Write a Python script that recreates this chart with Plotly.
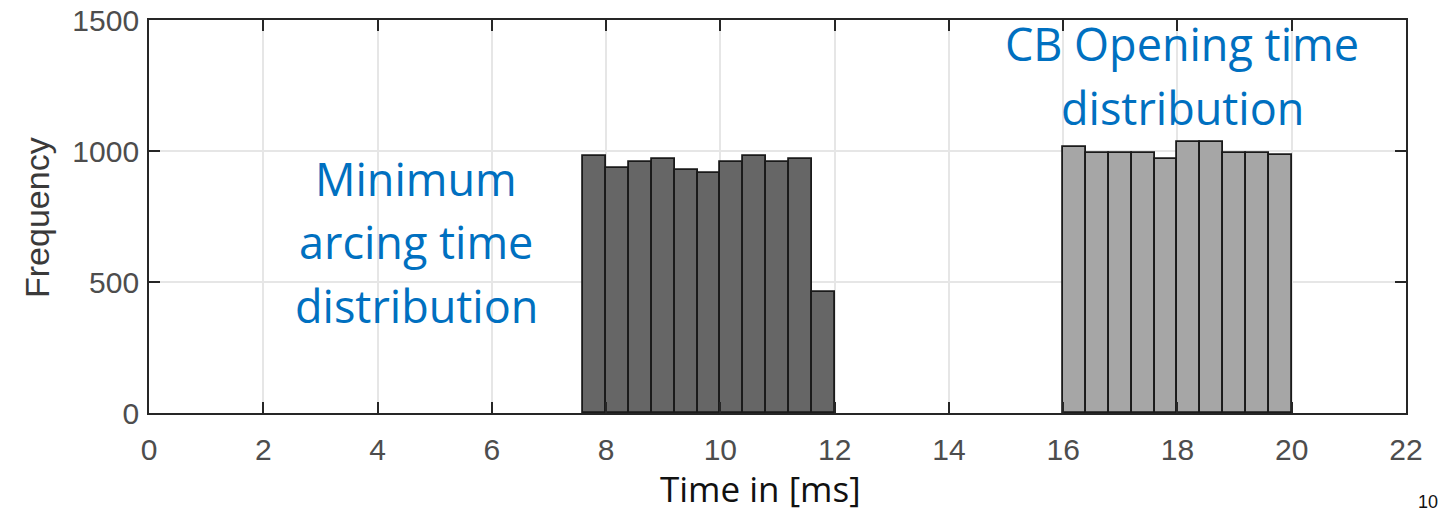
import plotly.graph_objects as go

# Data
arc_centers = [7.8, 8.2, 8.6, 9.0, 9.4, 9.8, 10.2, 10.6, 11.0, 11.4, 11.8]
arc_counts = [981, 936, 959, 969, 927, 915, 959, 982, 959, 968, 461]
open_centers = [16.2, 16.6, 17.0, 17.4, 17.8, 18.2, 18.6, 19.0, 19.4, 19.8]
open_counts = [1016, 994, 994, 994, 969, 1036, 1036, 994, 994, 985]
x_ticks = [0, 2, 4, 6, 8, 10, 12, 14, 16, 18, 20, 22]
y_ticks = [0, 500, 1000, 1500]
bin_width = 0.4

W, H = 1446, 513
L, R, T, B = 149, 40, 20, 100
ph = H - T - B

def py(pix):
    return (H - B - pix) / ph

def px(pix):
    return (pix - L) / (W - L - R)

fig = go.Figure()
fig.add_trace(go.Bar(x=arc_centers, y=arc_counts, width=bin_width,
                     marker=dict(color="#666666", line=dict(color="#1a1a1a", width=1.8))))
fig.add_trace(go.Bar(x=open_centers, y=open_counts, width=bin_width,
                     marker=dict(color="#a6a6a6", line=dict(color="#1a1a1a", width=1.8))))

axis_common = dict(showline=True, linecolor="#262626", linewidth=1.8, mirror="ticks",
                   ticks="inside", ticklen=11, tickwidth=1.5, tickcolor="#262626",
                   showgrid=True, gridcolor="#e6e6e6", gridwidth=1.5, zeroline=False,
                   automargin=False,
                   tickfont=dict(family="Liberation Sans, Arial", size=30, color="#4d4d4d"))

fig.update_layout(
    width=W, height=H, margin=dict(l=L, r=R, t=T, b=B, autoexpand=False),
    paper_bgcolor="white", plot_bgcolor="white", showlegend=False, bargap=0,
    xaxis=dict(range=[0, 22], tickvals=x_ticks, ticklabelstandoff=9, **axis_common),
    yaxis=dict(range=[0, 1500], tickvals=y_ticks, ticklabelstandoff=2, **axis_common),
)

blue = "#0070c0"
tf = "Open Sans, Noto Sans, sans-serif"
lines_left = ["Minimum", "arcing time", "distribution"]
ys_left = [178, 241, 305]
for t, y in zip(lines_left, ys_left):
    fig.add_annotation(text=t, xref="paper", yref="paper", x=px(416), y=py(y),
                       showarrow=False, xanchor="center", yanchor="middle",
                       font=dict(family=tf, size=45, color=blue))
lines_right = ["CB Opening time", "distribution"]
ys_right = [43, 107]
for t, y in zip(lines_right, ys_right):
    fig.add_annotation(text=t, xref="paper", yref="paper", x=px(1182), y=py(y),
                       showarrow=False, xanchor="center", yanchor="middle",
                       font=dict(family=tf, size=45, color=blue))

fig.add_annotation(text="Time in [ms]", xref="paper", yref="paper", x=px(760), y=py(488),
                   showarrow=False, xanchor="center", yanchor="middle", borderpad=0,
                   font=dict(family=tf, size=35, color="#111111"))
fig.add_annotation(text="Frequency", xref="paper", yref="paper", x=px(37), y=py(218),
                   showarrow=False, xanchor="center", yanchor="middle", textangle=-90,
                   font=dict(family="Liberation Sans, Arial", size=34, color="#3a3a3a"))
fig.add_annotation(text="10", xref="paper", yref="paper", x=px(1428), y=py(513),
                   showarrow=False, xanchor="center", yanchor="bottom", borderpad=0,
                   font=dict(family="Liberation Sans, Arial", size=18, color="#111111"))

fig.write_html("out.html")
